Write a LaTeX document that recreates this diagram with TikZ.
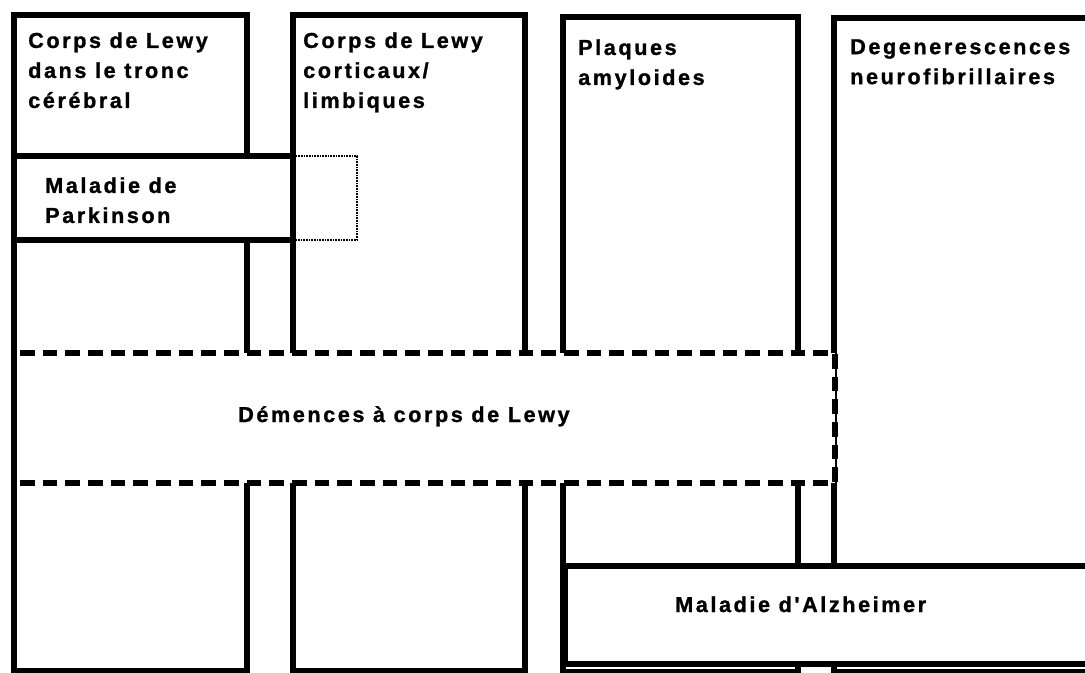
\documentclass[tikz,border=0pt]{standalone}
\usepackage{fontspec}
\newfontfamily\lblfont[LetterSpace=12, FakeBold=1.2]{Liberation Sans Bold}
\begin{document}
\begin{tikzpicture}[x=0.75pt,y=-0.75pt,
  col/.style={draw=black, line width=3.8pt},
  box/.style={draw=black, fill=white, line width=3.8pt},
  dashbox/.style={draw=black, fill=white, line width=3.8pt, dash pattern=on 11pt off 6pt},
  dotbox/.style={draw=black, line width=1.4pt, dash pattern=on 1.2pt off 0.8pt},
  lbl/.style={font=\lblfont\fontsize{16.2}{22.5}\selectfont, anchor=north west, inner sep=0pt, align=left},
  lblb/.style={lbl, anchor=base west}]
\useasboundingbox (0,0) rectangle (1085,672);
\fill[white] (0,0) rectangle (1085,672);
\begin{scope}
  \clip (0,0) rectangle (1085,672);
  % columns
  \draw[col] (14,15) rectangle (247,671);
  \draw[col] (293,15) rectangle (525,671);
  \draw[col] (563,17) rectangle (798,672);
  \draw[col] (834,18) rectangle (1100,672);
  % Parkinson
  \draw[box] (14,156) rectangle (293,240);
  \draw[dotbox] (293,156) -- (357,156) -- (357,240) -- (293,240);
  % Lewy dementia
  \draw[dashbox] (14,353) rectangle (835,483);
  \draw[col] (14,353) -- (14,483);
  % Alzheimer
  \draw[box] (565,566) rectangle (1100,664);
\end{scope}
\node[lbl] (t1) at (28,32) {Corps de Lewy\\dans le tronc\\cérébral};
\node[lbl] (t2) at (303,32) {Corps de Lewy\\corticaux/\\limbiques};
\node[lbl] (t3) at (578,39) {Plaques\\amyloides};
\node[lbl] (t4) at (850,39) {Degenerescences\\neurofibrillaires};
\node[lbl] (tp) at (45,177) {Maladie de\\Parkinson};
\node[lblb] (td) at (238,422) {Démences à corps de Lewy};
\node[lblb] (ta) at (675,612) {Maladie d'Alzheimer};
\end{tikzpicture}
\end{document}
